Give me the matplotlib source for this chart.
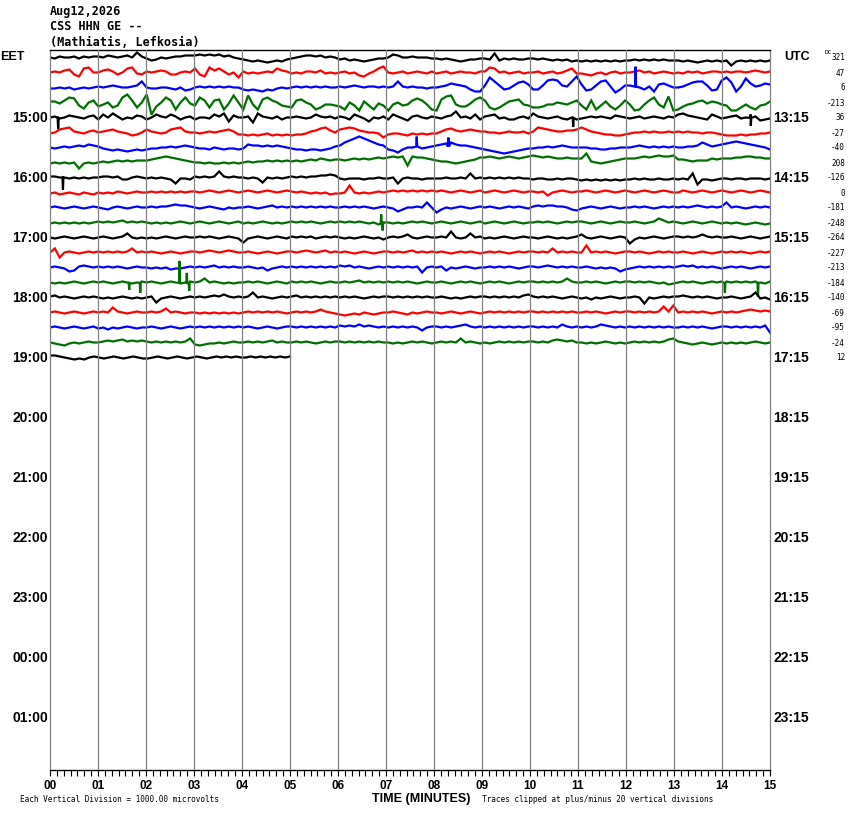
import matplotlib
matplotlib.use('Agg')
import matplotlib.pyplot as plt
from matplotlib import font_manager
import numpy as np

# header text
date_line = 'Aug12,2026'
station_line = 'CSS HHN GE --'
place_line = '(Mathiatis, Lefkosia)'

# hour labels (every 4th row) on both sides
eet_labels = ['15:00', '16:00', '17:00', '18:00', '19:00', '20:00',
              '21:00', '22:00', '23:00', '00:00', '01:00']
utc_labels = ['13:15', '14:15', '15:15', '16:15', '17:15', '18:15',
              '19:15', '20:15', '21:15', '22:15', '23:15']

# DC offset printed at the right of every trace row
dc_values = [321, 47, 6, -213, 36, -27, -40, 208, -126, 0, -181,
             -248, -264, -227, -213, -184, -140, -69, -95, -24, 12]

trace_colors = ['#000000', '#ff0000', '#0000ff', '#006e00']
row_minutes = [15] * 20 + [5]

# traces, one letter per ~6 s, 'm' = baseline,
# each letter step = 1 pixel (n = +1 up, l = -1 down ...), 10 letters per minute
traces = [
    "mlnmmnlnmn nmonmnomrn ljkmlmnnoo opopopnoml kjijihijik lmnoonomnm kljkjijkll mpommnmmml lklkjijkkl lkqjlklkkl lklkjkjkij ijijijijij jkjkjkjkjj jijihijiji jeijijijij",
    "mnmopkiqrm mopnkmqrlk nmnonkkmnm qkiroqnkmh nlmlmnmqon lmlnnmolml mnlmjilnqs mlmnlmnmln lmnlmnmmln nrqmnlmnlm mnlmnlmoql lkjlmkmnlm mnomnlmnml mlnmnlmnnm nmnnmnonmn",
    "llmlmklmlm nmnonmmnos mllmmlkmjk mnmnmnmnmm kjkjikjlml mnmnmnmnmm nmnonmnnmn mnsnmnmmlm mnoqponkii owsoklorsp kkotutonsx pjkostnhko onmknipqom mnprssojkt wrinvqnoqp",
    "nnlorqjgmo ikmhjruohm uaimrofmrl jrohopfltm ftkfpromji hopmkfhkkj ifmjenjflj ekmjkoqokf epstkiilpr ohfhknopkj hhikkmlkmo jfofjnifjo kefkorkhse fiklnolnmk jeehkhfjkn",
    "mnlmonmlno kpmqnkmlon kmpnmpnkmn kmmlpnqiom mnhqnmlnkm mnmlmpnmnl nmkpnlimln kpnljnomln mlnosmnlpk noplmkkmnl qnmlmnlkmk lmnmnmlonm lmnlmnmlnm pqonmlkpnl mnolmpnjkl",
    "lmpqrnmlno mnopnmljkm pnmlmpqrnm mlmnmnopnk kjkjkljkjk jkklnoqrom pqrqonmmlh kllkjlklkl lnpqonopon nmmlmnmmnl nrqponnoop rpnmlkkjjk lmmnmnmmnm nmnmmlmmlk jjjkjkkllm",
    "mlmnmnonpo nlkjkjijkj kllmmnmnon mllkmlkllk lpoonononm lkkjkkjkln ortvxvtrpo kjhkmmnlmn opqrpoonml kjihghijkl lmmnmnonmm mmllkkllmm mnonmnmnmn mmnnorpnop qrsrqponmk",
    "lmlmlmglml mnmnononoo opqrsrqpon mmlmllmlml mnmnnonono nonopoqpop popqpqpqrq rsrsjsrrqp onnmlmnopr rsrqrsrqrs tsrsrqqrqq qvnmlmnopq qqrsrstsst pponoooqpq qqrrssrrqq",
    "nnmmlmlmlm mnnmnkkmnm lmlmlkgllk nmnmnsnmnm mlmlhmlmlm nmnmnnoopo lklllkllml lmglmllkll llmllmlqlm lmlmlmlmll kllkklkllk jkjkjkjkjk klklkklkkl klkqfkkjkl lkllklllkl",
    "lmklmlkmlk mlmlnmlmnm mnmnmnmnmn nmnonmnonm nonmnonmno nmnmlmlmkl lmtmlmlmnm nonononono nonmnonmno mnonmnonmn nmnjmnonmn nonmnonmno nmnonmnonm monmnonmno nmnonmnonm",
    "mnmlmnmlmn mlkmnmlmnm mnmnnopoon mlmnmlkmlm mnmlmnomnm nmnmnmnmnm mnmnmnmlmn mlikmmnmrm hkmlmnmlmn mnmlmnmnml nonoonnmkj lmnmlmnmlm mnmnmlmnmn mnmnonmnmn rmnmlmnmnm",
    "lmlmlmlmlm nmnmnomnmn mlmlmlmnml mnmlmnmlmn lmlmnmlmlm nmnmnmlmnm nmnmnmlmkm mlmlmnmnml mnmlmnmlmn lmnmlmnmlm mnmnmlmnmn nmlmnmlmnm mnmlmnqomn mlmnmlmnml mlmlklmlkl",
    "mlmnmlmnml mnmlmnqmlm lmlmnmlmnm mnmnmlmnml hlmnmlmnml nmnmnlmnmn mlmlmnmlmk mnmnpmlmnm mnmsmlmqmn lmlmnmlmnm mlmnmlmlmn pmlmnmlmnm gkmlmnmlmn nmnmnpnmnm mnmlmnmlmn",
    "mqhmnmlmnm nmnmnmnqmn mnmlmnmlmn nmnonmnonm mnmlmnmlmn nmnonmnomn mnmlmnmlmn nmnmnomnmn mnmlmnmnml mnmnmlmnmn nmnmqmnmnm mtmnmnmlmn nmnmlmnmnm mnmlmnmlmn mnmnmlmnmn",
    "mnmlijnonm nmnmnmlmnm mlmlmkllmn mnmnomnmnm mnmlmjlmnm nmnmnmnmnm onomnmlmnm nmnmnmnhmn mnjmlmnmlm mnmnmnmlmn nmnonmnmnm mnmlmlmlik lmnmnmnmnm nonomnmnml mnmnmlmnmn",
    "mlmlmnmlmn mnmlmnmlmn mnmlmnmlmn mnqmnmlmlm mnmnmlmnml nmnmnmlmnm mnmnomnmnm nmnmnmlmnm mnmlmnmnml mnmnmlmnmn nmnmnmnqnm mnmnmlmnmn nmnmnmlmkl mnmnmlmnmn nmnmnmnmln",
    "nomnmlmnmn mlmlmnmlml mnhlmnmlmn mnmnonpnmn mnrmnmlmnm nomnmnmnmn mnmnmlmnmn nmnmnmnmnm mnmlmlmnmn nmnmnmnmop nmnmnmlmnm lmkmlmnmlm mnmgmlmnmn nonmnmnmlm mnmlmnrlmk",
    "mnmlmnmlmn mnmrnmlmnm mnmnqmnmlm mlmlmlmlml mnmnmnmnml mnmnmnpnml kjklkmlklm mnmlkmlmnm mlmnmlmnml mnmnmnmnmn nmnmnmnmnm mnmnmlmnmn nmnmnmnsnt mnmnmnmlmn mnmnoponon",
    "mnmlmnmlmn lmkmlmnmlm mnmlmnmlmn mnmnmnmnmn mnmlmnmlmn nmnmnmnmnm ononpnonmn mnmnmnmjmn nmnmnopnmn mnmnmnmnmn nmnmnmpnmn mnmnponmnm nmnmnmnmnm mnmnmnmlmn nmnmnmnmoh",
    "mlkjlmlmnm mnonopnono nmnmnmnmnq kjkllmlmnm mnmnmnomnm mnmnmlmnmn nmnmnmnmnm mlmlmnmnml mnmnmqmnml mlmnmnmnmn nmnmoponom mlmlmnmlml mnmnmnmnpq nmlklmlklm lmlmlmnmlm",
    "oonmlklkmn mlmnmlmnml lmnmlmnmlm nmlmnmnmnm mnmnmnmnmn",
]

# tall single-sample spikes: (row, minute, pixels up)
spikes = [
    (2, 12.2, 20),
    (4, 0.17, -11), (4, 10.9, -9), (4, 14.6, -8),
    (6, 7.64, 10), (6, 8.3, 9),
    (8, 0.27, -12),
    (11, 6.9, 9), (11, 6.93, -7),
    (15, 1.65, -7), (15, 1.88, -10), (15, 2.7, 22), (15, 2.85, 10),
    (15, 2.9, -8), (15, 14.06, -10), (15, 14.75, -14),
]

installed = {f.name for f in font_manager.fontManager.ttflist}
sans = 'Liberation Sans' if 'Liberation Sans' in installed else 'DejaVu Sans'
mono = 'DejaVu Sans Mono'

W, H = 850, 814
fig = plt.figure(figsize=(W / 100, H / 100), dpi=100)
ax = fig.add_axes([50 / W, 44 / H, 720 / W, 720 / H])

for k, s in enumerate(traces):
    off = np.array([ord(c) - ord('m') for c in s.replace(' ', '')], dtype=float)
    x = np.linspace(0, row_minutes[k], len(off))
    for r, m, px in spikes:
        if r != k:
            continue
        base = np.interp(m, x, off)
        x = np.concatenate([x, [m - 0.01, m, m + 0.01]])
        off = np.concatenate([off, [base, base + px, base]])
    order = np.argsort(x, kind='stable')
    ax.plot(x[order], k - off[order] / 15.0, color=trace_colors[k % 4],
            lw=1.6, zorder=2, solid_joinstyle='miter')

for m in range(1, 15):
    ax.axvline(m, color='#808080', lw=0.9, zorder=3)

ax.set_xlim(0, 15)
ax.set_ylim(47.5, -0.5)
ax.set_yticks([])
ax.set_xticks(range(16))
ax.set_xticklabels([f'{m:02d}' for m in range(16)], fontfamily=sans,
                   fontweight='bold', fontsize=8.5)
ax.set_xticks(np.arange(0, 15.0001, 1 / 7), minor=True)
ax.tick_params(axis='x', which='both', direction='out', length=4.5,
               width=0.8, pad=3)
for side in ['left', 'right']:
    ax.spines[side].set_color('#808080')
    ax.spines[side].set_linewidth(0.9)
ax.spines['top'].set_linewidth(1.0)
ax.spines['bottom'].set_linewidth(1.0)


def px_text(x, y, s, **kw):
    fig.text(x / W, 1 - y / H, s, **kw)


px_text(50, 12, date_line, family=mono, fontweight='bold', fontsize=8.5, va='center')
px_text(50, 27, station_line, family=mono, fontweight='bold', fontsize=8.5, va='center')
px_text(50, 42, place_line, family=mono, fontweight='bold', fontsize=8.5, va='center')

px_text(0, 57, 'EET', family=sans, fontweight='bold', fontsize=9, va='center')
px_text(784, 57, 'UTC', family=sans, fontweight='bold', fontsize=9, va='center')
px_text(825, 52, 'DC', family=mono, fontsize=4.5, va='center')

for i, (lab_l, lab_r) in enumerate(zip(eet_labels, utc_labels)):
    yy = 58 + 60 * (i + 1)
    px_text(48, yy, lab_l, family=sans, fontweight='bold', fontsize=10,
            ha='right', va='center')
    px_text(773, yy, lab_r, family=sans, fontweight='bold', fontsize=10,
            ha='left', va='center')

for k, v in enumerate(dc_values):
    px_text(845, 58 + 15 * k, str(v), family=mono, fontsize=5.5,
            ha='right', va='center')

px_text(421, 799, 'TIME (MINUTES)', family=sans, fontweight='bold',
        fontsize=9, ha='center', va='center')
px_text(20, 800, 'Each Vertical Division = 1000.00 microvolts', family=mono,
        fontsize=5.6, va='center')
px_text(482, 800, 'Traces clipped at plus/minus 20 vertical divisions',
        family=mono, fontsize=5.6, va='center')

fig.savefig('out.png', dpi=100)
